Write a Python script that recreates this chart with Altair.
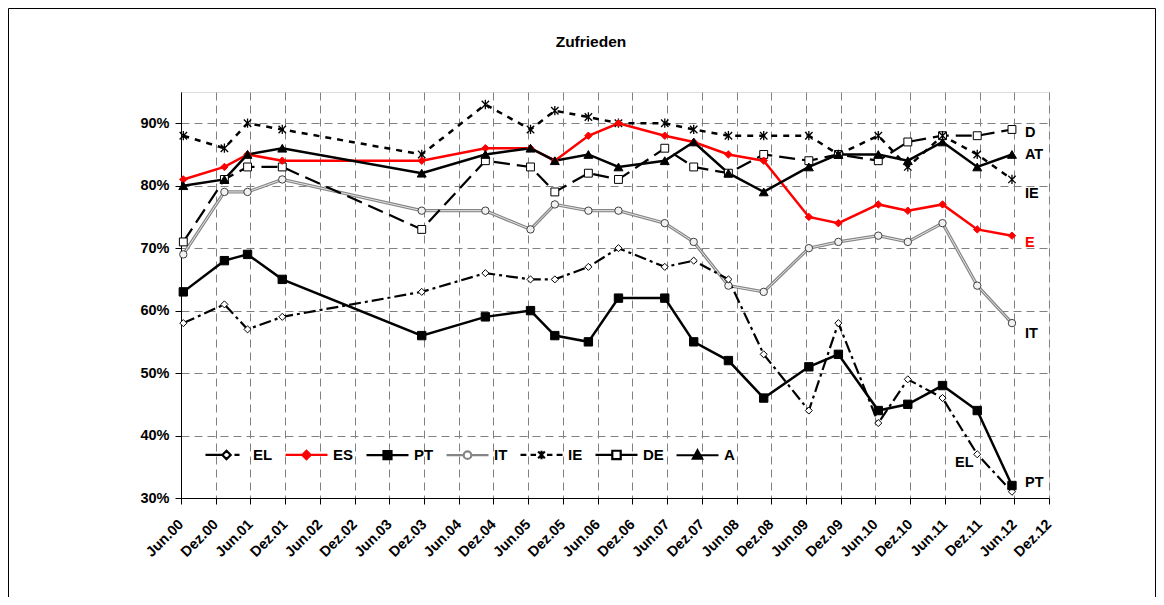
import altair as alt
import pandas as pd

FONT = "Liberation Sans"

tick_labels = ["Jun.00", "Dez.00", "Jun.01", "Dez.01", "Jun.02", "Dez.02", "Jun.03",
               "Dez.03", "Jun.04", "Dez.04", "Jun.05", "Dez.05", "Jun.06", "Dez.06",
               "Jun.07", "Dez.07", "Jun.08", "Dez.08", "Jun.09", "Dez.09", "Jun.10",
               "Dez.10", "Jun.11", "Dez.11", "Jun.12", "Dez.12"]

# survey dates, in months after June 2000
months = [0.4, 7.5, 11.5, 17.5, 41.6, 52.6, 60.4, 64.6, 70.4, 75.6, 83.6, 88.6,
          94.6, 100.7, 108.5, 113.6, 120.5, 125.6, 131.6, 137.6, 143.6]

EL = [58, 61, 57, 59, 63, 66, 65, 65, 67, 70, 67, 68, 65, 53, 44, 58, 42, 49, 46, 37, 31]
ES = [81, 83, 85, 84, 84, 86, 86, 84, 88, 90, 88, 87, 85, 84, 75, 74, 77, 76, 77, 73, 72]
PT = [63, 68, 69, 65, 56, 59, 60, 56, 55, 62, 62, 55, 52, 46, 51, 53, 44, 45, 48, 44, 32]
IT = [69, 79, 79, 81, 76, 76, 73, 77, 76, 76, 74, 71, 64, 63, 70, 71, 72, 71, 74, 64, 58]
IE = [88, 86, 90, 89, 85, 93, 89, 92, 91, 90, 90, 89, 88, 88, 88, 85, 88, 83, 88, 85, 81]
DE = [71, 81, 83, 83, 73, 84, 83, 79, 82, 81, 86, 83, 82, 85, 84, 85, 84, 87, 88, 88, 89]
A = [80, 81, 85, 86, 82, 85, 86, 84, 85, 83, 84, 87, 82, 79, 83, 85, 85, 84, 87, 83, 85]

series_names = ["EL", "ES", "PT", "IT", "IE", "DE", "A"]
series_values = {"EL": EL, "ES": ES, "PT": PT, "IT": IT, "IE": IE, "DE": DE, "A": A}

# end-of-line labels
end_labels = {"DE": "D", "A": "AT", "IE": "IE", "ES": "E", "IT": "IT", "PT": "PT", "EL": "EL"}

RED = "#ff0000"
GRID = "#808080"

line_styles = {
    "EL": dict(color="black", strokeWidth=2.2, strokeDash=[12, 4, 3, 4]),
    "ES": dict(color=RED, strokeWidth=2.5),
    "PT": dict(color="black", strokeWidth=2.5),
    "IT": dict(color="#858585", strokeWidth=3.2),
    "IE": dict(color="black", strokeWidth=2.5, strokeDash=[6, 6]),
    "DE": dict(color="black", strokeWidth=2.2, strokeDash=[16, 7]),
    "A": dict(color="black", strokeWidth=2.5),
}
ASTERISK = "M-1,-1L1,1M-1,1L1,-1M0,-1.25L0,1.25"
marker_styles = {
    "EL": dict(shape="diamond", size=50, fill="white", stroke="black", strokeWidth=1, filled=True),
    "ES": dict(shape="diamond", size=55, fill=RED, stroke=RED, strokeWidth=1, filled=True),
    "PT": dict(shape="square", size=70, fill="black", stroke="black", strokeWidth=1, filled=True),
    "IT": dict(shape="circle", size=55, fill="#f2f2f2", stroke="#404040", strokeWidth=1, filled=True),
    "IE": dict(shape=ASTERISK, size=55, stroke="black", strokeWidth=1.3, filled=False),
    "DE": dict(shape="square", size=62, fill="white", stroke="black", strokeWidth=1, filled=True),
    "A": dict(shape="triangle-up", size=80, fill="black", stroke="black", strokeWidth=1, filled=True),
}
label_offsets = {"DE": (13, 4), "A": (13, 1), "IE": (13, 14.5), "ES": (13, 7.5),
                 "IT": (13, 11), "PT": (13, -2.5), "EL": (-57, -28.5)}

legend_paths = [
    "M-1,0L-0.2,0M0,-0.2L0.2,0L0,0.2L-0.2,0ZM0.38,0L0.62,0",
    "M-1,0L1,0M0,-0.2L0.2,0L0,0.2L-0.2,0Z",
    "M-1,0L1,0M-0.19,-0.19L0.19,-0.19L0.19,0.19L-0.19,0.19Z",
    "M-1,0L-0.18,0M0.18,0L1,0M0.18,0A0.18,0.18 0 1,1 -0.18,0A0.18,0.18 0 1,1 0.18,0Z",
    "M-1,0L-0.72,0M-0.52,0L-0.26,0M0.26,0L0.52,0M0.72,0L1,0M-0.16,-0.16L0.16,0.16M-0.16,0.16L0.16,-0.16M0,-0.2L0,0.2",
    "M-1,0L-0.2,0M0.2,0L1,0M-0.2,-0.2L0.2,-0.2L0.2,0.2L-0.2,0.2Z",
    "M-1,0L1,0M0,-0.24L0.22,0.16L-0.22,0.16Z",
]
legend_fills = ["white", RED, "black", "white", "white", "white", "black"]
legend_strokes = ["black", RED, "black", "#858585", "black", "black", "black"]

rows = []
for s in series_names:
    for m, v in zip(months, series_values[s]):
        rows.append({"series": s, "month": m, "value": v})
df = pd.DataFrame(rows)

label_js = "[" + ",".join("'%s'" % t for t in tick_labels) + "][round(datum.value/6)]"

x_axis = alt.Axis(values=list(range(0, 151, 6)), labelExpr=label_js, labelAngle=-45,
                  labelAlign="right", labelBaseline="middle", labelPadding=18, tickSize=6,
                  labelFont=FONT, labelFontSize=14.5, labelFontWeight="bold", labelColor="black",
                  labelFlush=False, labelOverlap=False, grid=True, gridDash=[8, 5], gridColor=GRID,
                  gridWidth=1, domainColor="black", tickColor="black", title=None)
y_axis = alt.Axis(values=[30, 40, 50, 60, 70, 80, 90], labelExpr="datum.value + '%'",
                  tickSize=6, labelPadding=6, labelFont=FONT, labelFontSize=14.5,
                  labelFontWeight="bold", labelColor="black", grid=True, gridDash=[8, 5],
                  gridColor=GRID, gridWidth=1, domainColor="black", tickColor="black", title=None)

X = alt.X("month:Q", scale=alt.Scale(domain=[0, 150], nice=False, zero=False), axis=x_axis)
Y = alt.Y("value:Q", scale=alt.Scale(domain=[30, 95], nice=False, zero=False), axis=y_axis)

layers = []

# outer chart frame
frame = alt.Chart(pd.DataFrame({"k": [0]})).mark_rect(
    fill=None, stroke="black", strokeWidth=1, clip=False
).encode(x=alt.value(-172.5), x2=alt.value(974.5), y=alt.value(-83.5), y2=alt.value(700))
layers.append(frame)

draw_order = ["IT", "EL", "DE", "IE", "ES", "A", "PT"]
for s in draw_order:
    d = df[df.series == s]
    base = alt.Chart(d).encode(x=X, y=Y)
    layers.append(base.mark_line(strokeCap="butt", strokeJoin="miter", **line_styles[s]))
    if s == "IT":
        layers.append(base.mark_line(color="#e6e6e6", strokeWidth=1))
for s in draw_order:
    d = df[df.series == s]
    base = alt.Chart(d).encode(x=X, y=Y)
    layers.append(base.mark_point(opacity=1, **marker_styles[s]))

# end labels
for s in series_names:
    d = df[df.series == s].tail(1).assign(lab=end_labels[s])
    dx, dy = label_offsets[s]
    layers.append(alt.Chart(d).mark_text(
        align="left", baseline="middle", dx=dx, dy=dy, font=FONT, fontSize=14.5,
        fontWeight="bold", color=RED if s == "ES" else "black"
    ).encode(x=X, y=Y, text="lab:N"))

# legend carrier (no visible marks)
leg = alt.Legend(title=None, orient="none", legendX=23, legendY=340, direction="horizontal",
                 columns=7, symbolSize=1764, symbolStrokeWidth=2.2, labelFont=FONT,
                 labelFontSize=15, labelFontWeight="bold", labelColor="black", labelOffset=4,
                 columnPadding=8, padding=0, symbolOpacity=1, labelLimit=0)
carrier = alt.Chart(pd.DataFrame({"series": series_names})).transform_filter("false").mark_point(
    filled=True, opacity=1, strokeWidth=2.2
).encode(
    shape=alt.Shape("series:N", scale=alt.Scale(domain=series_names, range=legend_paths), legend=leg),
    fill=alt.Fill("series:N", scale=alt.Scale(domain=series_names, range=legend_fills), legend=leg),
    stroke=alt.Stroke("series:N", scale=alt.Scale(domain=series_names, range=legend_strokes), legend=leg),
)
layers.append(carrier)

chart = alt.layer(*layers).properties(
    width=868, height=406, autosize="none",
    padding={"left": 173, "top": 84, "right": 107, "bottom": 99},
    title=alt.TitleParams("Zufrieden", font=FONT, fontSize=15.5, fontWeight="bold",
                          color="black", anchor="middle", frame="group", dx=-24,
                          offset=-42.5),
).configure_view(stroke=None).configure(background="white")

chart.save("out.html", embed_options={"renderer": "svg", "actions": False})
